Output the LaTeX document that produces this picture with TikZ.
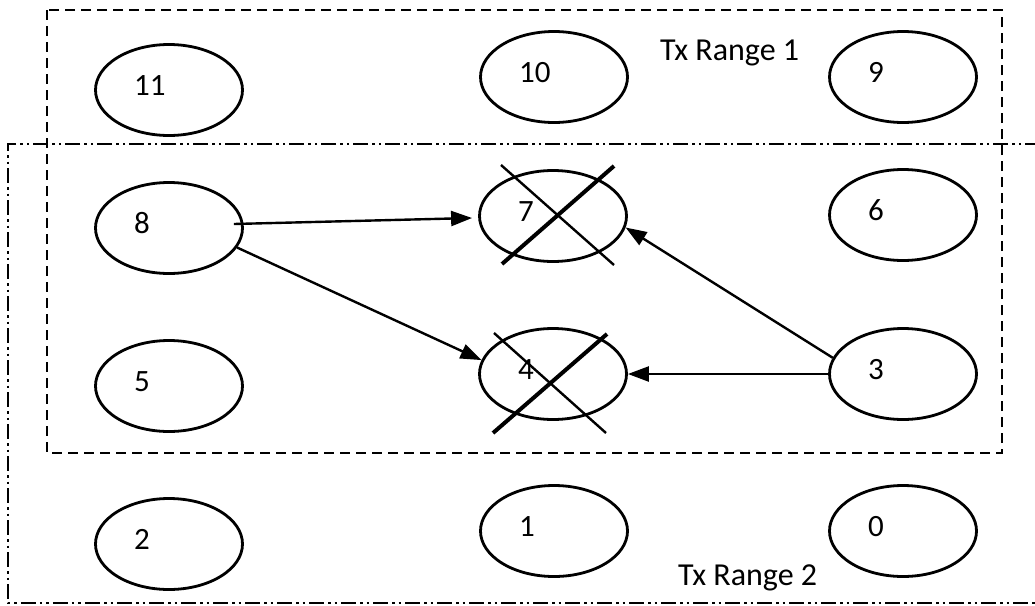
\documentclass[tikz,border=0pt]{standalone}
\usepackage{fontspec}
\setmainfont{Carlito}
\usetikzlibrary{arrows.meta,shapes.geometric}
\begin{document}
\begin{tikzpicture}[x=1pt,y=-1pt,
  nodeshape/.style={draw,ellipse,line width=2.8pt,minimum width=147pt,minimum height=91pt,inner sep=0pt},
  numlabel/.style={anchor=base west,inner sep=0pt,font=\fontsize{31}{36}\selectfont},
  rangelabel/.style={anchor=base west,inner sep=0pt,font=\fontsize{32}{38}\selectfont},
  link/.style={line width=2.4pt,-{Triangle[length=21pt,width=15pt]}},
  rangeone/.style={line width=2.5pt,dash pattern=on 10pt off 6pt},
  rangetwo/.style={line width=2.5pt,dash pattern=on 15pt off 4pt on 2.5pt off 4pt on 2.5pt off 4pt},
  crossthin/.style={line width=2.4pt},
  crossthick/.style={line width=4pt}]
\useasboundingbox (0,0) rectangle (1035,605);
\fill[white] (0,0) rectangle (1035,605);

% transmission ranges
\draw[rangeone] (47,10) rectangle (1002,453);
\draw[rangetwo] (1040,144) -- (8,144) -- (8,603) -- (1040,603);

% sensor nodes
\foreach \n/\x/\y in {11/169/90, 10/554/77, 9/903/77,
                      8/169/228, 7/553/216, 6/903/215,
                      5/169/386, 4/553/374, 3/903/374,
                      2/169/544, 1/554/531, 0/903/531} {
  \node[nodeshape] (n\n) at (\x,\y) {};
  \node[numlabel] (t\n) at ([shift={(-35,5)}]n\n.center) {\n};
}

% failed nodes
\draw[crossthin]  ([shift={(-52,-51)}]n7.center) -- ([shift={(61,49)}]n7.center);
\draw[crossthick] ([shift={(-51,48)}]n7.center) -- ([shift={(61,-50)}]n7.center);
\draw[crossthin]  ([shift={(-59,-41)}]n4.center) -- ([shift={(53,59)}]n4.center);
\draw[crossthick] ([shift={(-60,59)}]n4.center) -- ([shift={(54,-40)}]n4.center);

% transmissions
\draw[link] ([shift={(-10,-4)}]n8.east) -- ([shift={(-6,2)}]n7.west);
\draw[link] (n8.-16) -- (n4.169);
\draw[link] (n3.167) -- (n7.-9);
\draw[link] (n3.west) -- (n4.east);

% range labels
\node[rangelabel] (r1) at (660,60) {Tx Range 1};
\node[rangelabel] (r2) at (678,585) {Tx Range 2};
\end{tikzpicture}
\end{document}
